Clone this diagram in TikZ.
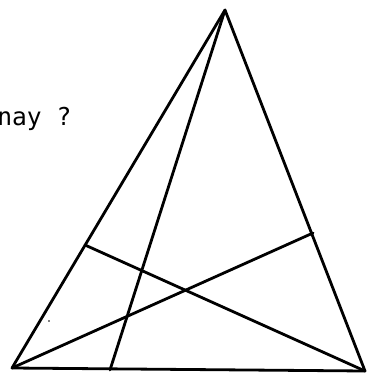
\documentclass[tikz,border=0pt]{standalone}
\usepackage{fontspec}
\newfontfamily\monofont{DejaVu Sans Mono}
\usetikzlibrary{calc, positioning}

\tikzset{
    edge/.style={line width=0.056cm, line cap=round, line join=round},
}

\begin{document}
\begin{tikzpicture}[x=0.02cm, y=-0.02cm]
    \useasboundingbox (0,0) rectangle (368,376);

    % Triangle vertices
    \coordinate (A) at (225,10);
    \coordinate (B) at (12,368);
    \coordinate (C) at (365,371);

    % Feet of the inner lines
    \coordinate (D) at (110,370);
    \coordinate (E) at (85,245);
    \coordinate (F) at (313,233);

    % Triangle
    \draw[edge] (A) -- (B) -- (C) -- cycle;

    % Inner lines
    \draw[edge] (A) -- (D);
    \draw[edge] (B) -- (F);
    \draw[edge] (C) -- (E);

    % Speck
    \fill (49,321) circle (0.8);

    % Question
    \node[anchor=base west, inner sep=0pt, font=\monofont\fontsize{14pt}{16pt}\selectfont] (question) at (-3,125) {nay ?};
\end{tikzpicture}
\end{document}
